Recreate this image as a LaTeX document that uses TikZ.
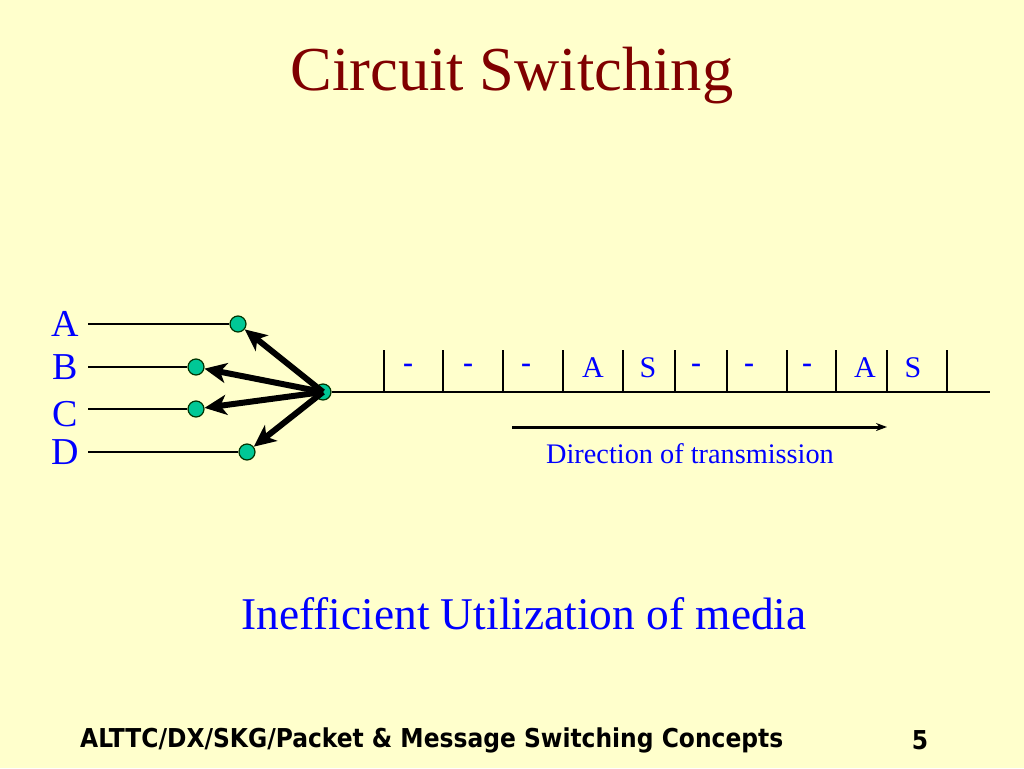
\documentclass[tikz,border=0pt]{standalone}
\usepackage{fontspec}
\setmainfont{Liberation Serif}
\newfontfamily\footfont{DejaVu Sans Condensed}
\usetikzlibrary{arrows.meta}
\definecolor{bgyellow}{RGB}{255,255,204}
\definecolor{titlered}{RGB}{128,0,0}
\definecolor{txtblue}{RGB}{0,0,255}
\definecolor{dotgreen}{RGB}{0,200,150}
\tikzset{
  dotnode/.style={circle,fill=dotgreen,draw=black!80!green,line width=1.2pt,minimum size=16pt,inner sep=0pt},
  lbl/.style={text=txtblue,font=\fontsize{38}{40}\selectfont,inner sep=0pt},
  slotlbl/.style={text=txtblue,font=\fontsize{30}{32}\selectfont,inner sep=0pt},
  thinline/.style={line width=1.2pt,black},
  fatarrow/.style={line width=6pt,-{Stealth[length=22pt,width=20pt,inset=6pt]}},
}
\begin{document}
\begin{tikzpicture}[x=1pt,y=-1pt]
\fill[bgyellow] (0,0) rectangle (1024,768);
\useasboundingbox (0,0) rectangle (1024,768);
% title
\node[text=titlered,font=\fontsize{62.5}{70}\selectfont] (title) at (512,76) {Circuit Switching};
% left labels
\node[lbl] (lA) at (65,324) {A};
\node[lbl] (lB) at (65,367) {B};
\node[lbl] (lC) at (65,414) {C};
\node[lbl] (lD) at (65,452) {D};
% dots
\node[dotnode] (dA) at (238,324) {};
\node[dotnode] (dB) at (196,367) {};
\node[dotnode] (dC) at (196,409) {};
\node[dotnode] (dD) at (247,452) {};
\node[dotnode] (hub) at (323,392) {};
% thin lines
\coordinate (sA) at (88,324);
\coordinate (sB) at (88,367);
\coordinate (sC) at (88,409);
\coordinate (sD) at (88,452);
\draw[thinline] (sA) -- (dA.west);
\draw[thinline] (sB) -- (dB.west);
\draw[thinline] (sC) -- (dC.west);
\draw[thinline] (sD) -- (dD.west);
% transmission line
\coordinate (lineend) at (990,392);
\draw[thinline] (hub.east) -- (lineend);
% fat arrows
\draw[fatarrow] (hub.center) -- (dA);
\draw[fatarrow] (hub.center) -- (dB);
\draw[fatarrow] (hub.center) -- (dC);
\draw[fatarrow] (hub.center) -- (dD);
% slot dividers
\foreach \x [count=\i] in {384,443,503,563,623,675,727,787,836,887,947}{
  \coordinate (dt\i) at (\x,350);
  \coordinate (db\i) at (\x,392);
  \draw[thinline] (dt\i) -- (db\i);
}
% slot labels
\foreach \x/\t [count=\i] in {408/\textbf{-},468/\textbf{-},526/\textbf{-},593/A,648/S,696/\textbf{-},749/\textbf{-},807/\textbf{-},865/A,913/S}{
  \node[slotlbl] (s\i) at (\x,368) {\t};
}
% direction arrow
\coordinate (dirS) at (512,427);
\coordinate (dirE) at (887,427);
\draw[line width=3pt,-{Stealth[length=11pt,width=8pt]}] (dirS) -- (dirE);
\node[text=txtblue,font=\fontsize{28.3}{30}\selectfont] (dirtxt) at (690,454) {Direction of transmission};
% bottom text
\node[text=txtblue,font=\fontsize{45.4}{50}\selectfont] (ineff) at (524,614) {Inefficient Utilization of media};
% footer
\node[anchor=west,font=\footfont\bfseries\fontsize{26}{28}\selectfont,inner sep=0pt] (foot) at (80,740) {ALTTC/DX/SKG/Packet \& Message Switching Concepts};
\node[font=\footfont\bfseries\fontsize{26}{28}\selectfont,inner sep=0pt] (pnum) at (920,740) {5};
\end{tikzpicture}
\end{document}
